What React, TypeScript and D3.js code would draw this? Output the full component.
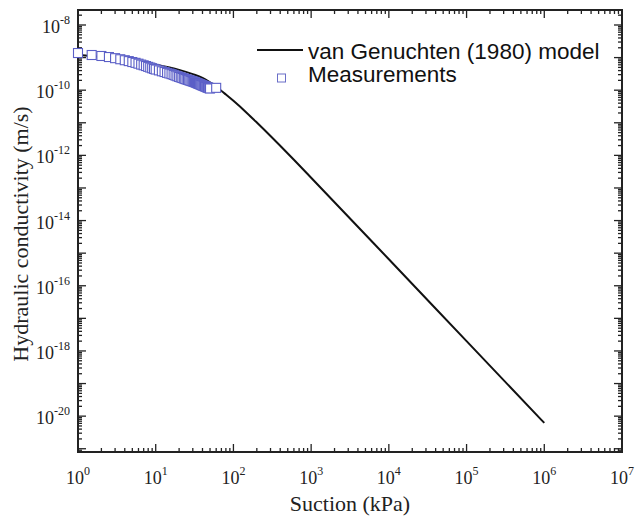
import React from "react";
import * as d3 from "d3";

// ---- data ----
const modelSuction = [1, 2, 5, 10, 20, 30, 40, 60, 80, 100, 150, 200, 300, 400, 600, 1000, 1e4, 1e5, 1e6];
const modelK = [1.2e-9, 1.04e-9, 8.1e-10, 6.1e-10, 4.2e-10, 3.1e-10, 2.37e-10, 1.27e-10, 7.36e-11, 4.71e-11, 1.97e-11, 1.02e-11, 3.94e-12, 1.97e-12, 7.31e-13, 2.06e-13, 6.5e-16, 2.0e-18, 6.2e-21];

const measSuction = [
  1, 1.5, 2, 2.5, 3, 3.5, 4, 4.5, 5, 5.5, 6, 6.5, 7, 7.5, 8, 8.5, 9, 9.5,
  10, 11, 12, 13, 14, 15, 16, 17, 18, 19, 20, 21, 22, 23, 24, 25, 26, 27, 28, 29,
  30, 31, 32, 33, 34, 35, 36, 37, 38, 39, 40, 41, 42, 43, 44, 45, 46, 47, 48, 49, 50, 60,
];
const measK = [
  1.38e-9, 1.2e-9, 1.12e-9, 1.04e-9, 9.6e-10, 8.9e-10, 8.3e-10, 7.8e-10, 7.3e-10, 6.9e-10, 6.5e-10, 6.1e-10, 5.8e-10, 5.5e-10, 5.2e-10, 4.95e-10, 4.7e-10, 4.5e-10,
  4.3e-10, 4.05e-10, 3.8e-10, 3.6e-10, 3.4e-10, 3.25e-10, 3.1e-10, 2.95e-10, 2.8e-10, 2.67e-10, 2.55e-10, 2.46e-10, 2.37e-10, 2.28e-10, 2.2e-10, 2.13e-10, 2.07e-10, 2.01e-10, 1.95e-10, 1.9e-10,
  1.85e-10, 1.8e-10, 1.75e-10, 1.7e-10, 1.65e-10, 1.6e-10, 1.56e-10, 1.52e-10, 1.48e-10, 1.44e-10, 1.4e-10, 1.37e-10, 1.34e-10, 1.31e-10, 1.28e-10, 1.25e-10, 1.22e-10, 1.2e-10, 1.18e-10, 1.15e-10, 1.13e-10, 1.18e-10,
];

const xTickExps = [0, 1, 2, 3, 4, 5, 6, 7];
const yTickExps = [-8, -10, -12, -14, -16, -18, -20];

const legendModel = "van Genuchten (1980) model";
const legendMeas = "Measurements";
const xTitle = "Suction (kPa)";
const yTitle = "Hydraulic conductivity (m/s)";

export default function App() {
  const W = 637, H = 522;
  const L = 78, R = 622, T = 10, B = 452;
  const x = d3.scaleLog().domain([1, 1e7]).range([L, R]);
  const y = d3.scaleLog().domain([Math.pow(10, -21.1), Math.pow(10, -7.54)]).range([B, T]);

  const serif = "'Liberation Serif', 'Times New Roman', serif";
  const sans = "'Liberation Sans', Arial, sans-serif";
  const axisColor = "#222";

  const xMajor: number[] = [];
  const xMinor: number[] = [];
  for (let d = 0; d <= 7; d++) {
    xMajor.push(Math.pow(10, d));
    if (d < 7) for (let k = 2; k <= 9; k++) xMinor.push(k * Math.pow(10, d));
  }
  const [y0, y1] = y.domain();
  const yMajor: number[] = [];
  const yMinor: number[] = [];
  for (let d = -22; d <= -7; d++) {
    const v = Math.pow(10, d);
    if (v >= y0 && v <= y1) yMajor.push(v);
    for (let k = 2; k <= 9; k++) {
      const m = k * v;
      if (m >= y0 && m <= y1) yMinor.push(m);
    }
  }
  const majLen = 8, minLen = 4;

  const modelPts: [number, number][] = modelSuction.map((s, i) => [x(s), y(modelK[i])]);
  const lineGen = d3.line().curve(d3.curveMonotoneX);
  const pathD = lineGen(modelPts) || "";

  const ms = 9;

  return (
    <svg width={W} height={H} style={{ position: "absolute", left: 0, top: 0, background: "#fff" }}>
      <rect x={0} y={0} width={W} height={H} fill="#fff" />
      <g stroke={axisColor} strokeWidth={1.3}>
        {xMajor.map((v, i) => (
          <g key={"xm" + i}>
            <line x1={x(v)} x2={x(v)} y1={B} y2={B - majLen} />
            <line x1={x(v)} x2={x(v)} y1={T} y2={T + majLen} />
          </g>
        ))}
        {xMinor.map((v, i) => (
          <g key={"xn" + i}>
            <line x1={x(v)} x2={x(v)} y1={B} y2={B - minLen} />
            <line x1={x(v)} x2={x(v)} y1={T} y2={T + minLen} />
          </g>
        ))}
        {yMajor.map((v, i) => (
          <g key={"ym" + i}>
            <line x1={L} x2={L + majLen} y1={y(v)} y2={y(v)} />
            <line x1={R} x2={R - majLen} y1={y(v)} y2={y(v)} />
          </g>
        ))}
        {yMinor.map((v, i) => (
          <g key={"yn" + i}>
            <line x1={L} x2={L + minLen} y1={y(v)} y2={y(v)} />
            <line x1={R} x2={R - minLen} y1={y(v)} y2={y(v)} />
          </g>
        ))}
      </g>
      <rect x={L} y={T} width={R - L} height={B - T} fill="none" stroke={axisColor} strokeWidth={2} />

      <g fontFamily={serif} fill="#222">
        {xTickExps.map((e) => (
          <text key={"xl" + e} x={x(Math.pow(10, e))} y={484} textAnchor="middle" fontSize={18}>
            10<tspan fontSize={12} dy={-9}>{e}</tspan>
          </text>
        ))}
        {yTickExps.map((e) => (
          <text key={"yl" + e} x={70} y={y(Math.pow(10, e)) + 8} textAnchor="end" fontSize={18}>
            10<tspan fontSize={12} dy={-9}>{"-" + Math.abs(e)}</tspan>
          </text>
        ))}
        <text x={(L + R) / 2} y={511} textAnchor="middle" fontSize={22}>{xTitle}</text>
        <text transform={`translate(28,${234}) rotate(-90)`} textAnchor="middle" fontSize={22}>{yTitle}</text>
      </g>

      <path d={pathD} fill="none" stroke="#111" strokeWidth={2} />

      <g fill="#fff" stroke="#5b5fc7" strokeWidth={1.1}>
        {measSuction.map((s, i) => (
          <rect key={"m" + i} x={x(s) - ms / 2} y={y(measK[i]) - ms / 2} width={ms} height={ms} />
        ))}
      </g>

      <line x1={257} x2={303} y1={50} y2={50} stroke="#111" strokeWidth={2} />
      <text x={308} y={58.5} fontFamily={sans} fontSize={22.5} fill="#111">{legendModel}</text>
      <rect x={281.5 - 4} y={78 - 4} width={8} height={8} fill="#fff" stroke="#6a6ec8" strokeWidth={1} />
      <text x={308} y={81.5} fontFamily={sans} fontSize={22.5} fill="#111">{legendMeas}</text>
    </svg>
  );
}
